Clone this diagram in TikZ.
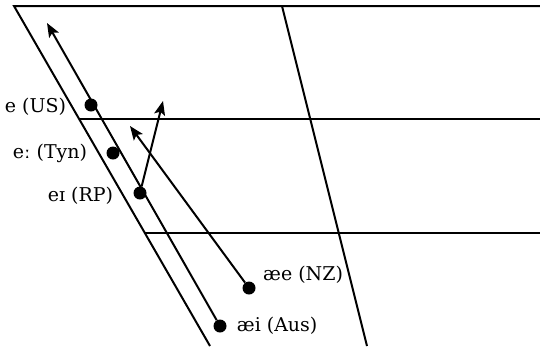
\documentclass[tikz,border=0pt]{standalone}
\usepackage{fontspec}
\setmainfont{DejaVu Serif}
\usetikzlibrary{arrows.meta,positioning}

\tikzset{
  chart/.style={line width=2pt},
  vowel/.style={circle, fill, inner sep=0pt, minimum size=13pt},
  lbl/.style={inner sep=0pt, font=\fontsize{19}{22}\selectfont},
  glide/.style={-{Stealth[length=14pt,width=11pt,inset=3pt]}, line width=2pt}
}

\begin{document}
\begin{tikzpicture}[x=1pt,y=-1pt]
  \useasboundingbox (0,0) rectangle (540,346);

  % vowel chart
  \coordinate (frontTop) at (14,6);
  \coordinate (frontBot) at (210,346);
  \coordinate (backTop) at (282,6);
  \coordinate (backBot) at (367,346);
  \draw[chart] (540,6) -- (frontTop) -- (frontBot);
  \draw[chart] (79,119) -- (540,119);
  \draw[chart] (145,233) -- (540,233);
  \draw[chart] (backTop) -- (backBot);

  % vowels
  \node[vowel] (us)  at (91,105) {};
  \node[vowel] (tyn) at (113,153) {};
  \node[vowel] (rp)  at (140,193) {};
  \node[vowel] (nz)  at (249,288) {};
  \node[vowel] (aus) at (220,326) {};

  \node[lbl, left=18pt of us, yshift=-2pt] (usL) {e (US)};
  \node[lbl, left=19pt of tyn] (tynL) {eː (Tyn)};
  \node[lbl, left=20pt of rp, yshift=-3pt] (rpL) {eɪ (RP)};
  \node[lbl, anchor=west] (nzL) at (263,275) {æe (NZ)};
  \node[lbl, right=10pt of aus] (ausL) {æi (Aus)};

  % glides
  \coordinate (ausEnd) at (47,23);
  \coordinate (rpEnd) at (163,101);
  \coordinate (nzEnd) at (130,126);
  \draw[glide] (aus) -- (ausEnd);
  \draw[glide] (rp) -- (rpEnd);
  \draw[glide] (nz) -- (nzEnd);
\end{tikzpicture}
\end{document}
